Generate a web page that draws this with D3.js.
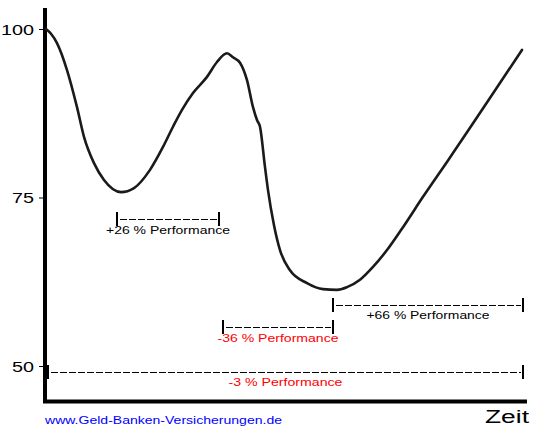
<!DOCTYPE html>
<html><head><meta charset="utf-8">
<script src="https://cdn.jsdelivr.net/npm/d3@7"></script>
<style>html,body{margin:0;padding:0;background:#fff;}svg{display:block;}</style>
</head><body>
<svg id="c" width="544" height="436"></svg>
<script>
// ---- data ----
const times  = [0,5,11,21,31,38,48,58,75,88,104,117,127,136,147,161,171,181,187,194,201,207,211,214,219,222,228,234,244,261,277,291,301,314,327,341,357,377,402,476];
const values = [100,99.3,97.9,93.9,88.4,84.0,80.1,77.6,75.8,76.4,79.1,82.5,85.5,88.0,90.5,92.9,95.1,96.4,95.8,95.0,92.4,88.4,86.5,85.5,79.5,76.1,70.9,67.2,64.2,62.3,61.4,61.3,61.7,62.8,64.7,67.2,70.6,75.1,80.5,96.9];
const yTicks = [50,75,100];
const periodLabels = ["+26 % Performance","-36 % Performance","+66 % Performance","-3 % Performance"];
const periodStart  = [71,177,287,2];
const periodEnd    = [173,287,477,477];
const periodColor  = ["#000000","#ff0000","#000000","#ff0000"];
const xLabel = "Zeit";
const source = "www.Geld-Banken-Versicherungen.de";

// ---- layout ----
const svg = d3.select("#c");
const x = d3.scaleLinear().domain([0,480]).range([46,526]);
const y = d3.scaleLinear().domain([50,100]).range([366,29]);
const bracketY = [219.5,327.5,305.5,372.5];   // vertical positions of brackets (px)
const labelY   = [234,342,319,386];
const labelW   = [124,121,123,114];

// axes lines
svg.append("line").attr("x1",45).attr("x2",45).attr("y1",8).attr("y2",403)
  .attr("stroke","#000").attr("stroke-width",4);
svg.append("line").attr("x1",43).attr("x2",527).attr("y1",401.5).attr("y2",401.5)
  .attr("stroke","#000").attr("stroke-width",4);

// y axis ticks
const ax = svg.append("g").attr("transform","translate(43,0)")
  .call(d3.axisLeft(y).tickValues(yTicks).tickSize(4).tickPadding(5));
ax.select(".domain").remove();
ax.selectAll(".tick line").attr("stroke","#000").attr("stroke-width",1);
ax.selectAll(".tick text")
  .attr("font-family","Liberation Sans, Arial, sans-serif")
  .attr("font-size",14).attr("fill","#000")
  .attr("dy","0.36em")
  .attr("textLength",d=>String(d).length*11)
  .attr("lengthAdjust","spacingAndGlyphs");

// curve
const pts = times.map((t,i)=>[t,values[i]]);
svg.append("path").datum(pts)
  .attr("d",d3.line().x(d=>x(d[0])).y(d=>y(d[1])).curve(d3.curveMonotoneX))
  .attr("fill","none").attr("stroke","#1a1a1a").attr("stroke-width",2.6)
  .attr("stroke-linejoin","round").attr("stroke-linecap","round");

// period brackets
periodLabels.forEach((lab,i)=>{
  const g = svg.append("g");
  const x0 = Math.round(x(periodStart[i])), x1 = Math.round(x(periodEnd[i])), by = bracketY[i];
  g.append("line").attr("x1",x0+3).attr("x2",x1-2).attr("y1",by).attr("y2",by)
    .attr("stroke","#000").attr("stroke-width",1).attr("stroke-dasharray","7,2")
    .attr("shape-rendering","crispEdges");
  [x0,x1].forEach(xx=>{
    g.append("line").attr("x1",xx).attr("x2",xx).attr("y1",by-8).attr("y2",by+6)
      .attr("stroke","#000").attr("stroke-width",2).attr("shape-rendering","crispEdges");
  });
  g.append("text").attr("x",(x0+x1)/2).attr("y",labelY[i])
    .attr("text-anchor","middle")
    .attr("font-family","Liberation Sans, Arial, sans-serif").attr("font-size",11)
    .attr("fill",periodColor[i])
    .attr("textLength",labelW[i]).attr("lengthAdjust","spacingAndGlyphs")
    .text(lab);
});

// x label
svg.append("text").attr("x",485).attr("y",423)
  .attr("font-family","Liberation Sans, Arial, sans-serif").attr("font-size",18)
  .attr("fill","#000").attr("textLength",44).attr("lengthAdjust","spacingAndGlyphs")
  .text(xLabel);

// source
svg.append("text").attr("x",45).attr("y",424)
  .attr("font-family","Liberation Sans, Arial, sans-serif").attr("font-size",11)
  .attr("fill","#0000ff").attr("textLength",237).attr("lengthAdjust","spacingAndGlyphs")
  .text(source);
</script>
</body></html>
